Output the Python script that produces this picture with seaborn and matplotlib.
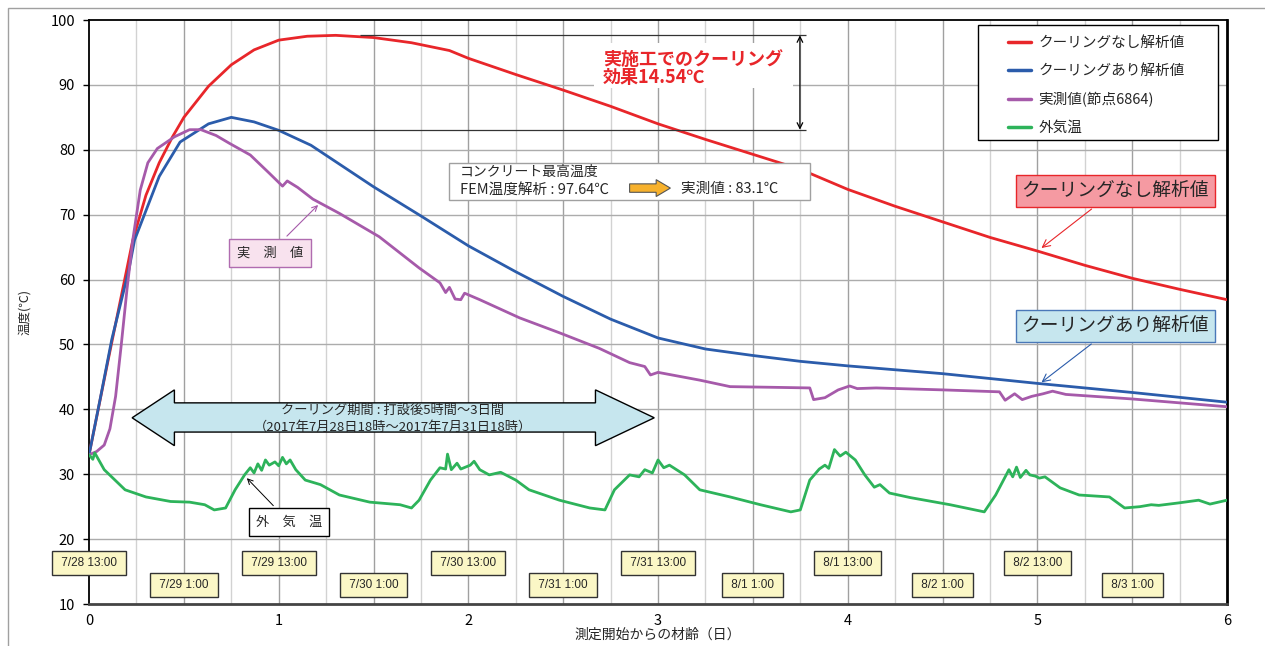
import matplotlib
matplotlib.use('Agg')
import matplotlib.pyplot as plt
import matplotlib.patches as mpatches
import seaborn as sns

# ---- data ----
red_x = [0, 0.1, 0.23, 0.3, 0.37, 0.44, 0.5, 0.63, 0.75, 0.87, 1.0, 1.15, 1.3, 1.5, 1.7, 1.9, 2.0,
         2.25, 2.5, 2.75, 3.0, 3.25, 3.5, 3.75, 4.0, 4.25, 4.5, 4.75, 5.0, 5.25, 5.5, 5.75, 6.0]
red_y = [33, 47.5, 66, 73, 78, 82, 85, 89.8, 93.1, 95.4, 96.9, 97.5, 97.64, 97.3, 96.5, 95.3, 94.1,
         91.6, 89.2, 86.7, 84.0, 81.6, 79.3, 77.0, 73.9, 71.3, 68.9, 66.5, 64.4, 62.2, 60.2, 58.5, 56.9]

blue_x = [0, 0.06, 0.12, 0.21, 0.24, 0.37, 0.48, 0.63, 0.75, 0.87, 1.0, 1.17, 1.5, 1.75, 2.0,
          2.25, 2.5, 2.75, 3.0, 3.25, 3.5, 3.75, 4.0, 4.5, 5.0, 5.5, 6.0]
blue_y = [33, 41.8, 50.8, 61.5, 66.1, 75.9, 81.2, 84.0, 85.0, 84.3, 83.0, 80.7, 74.3, 69.8, 65.2,
          61.2, 57.4, 53.9, 51.0, 49.3, 48.3, 47.4, 46.7, 45.5, 44.0, 42.6, 41.1]

meas_x = [0, 0.04, 0.08, 0.11, 0.14, 0.17, 0.2, 0.23, 0.27, 0.31, 0.36, 0.45, 0.53, 0.59, 0.67,
          0.74, 0.85, 0.95, 1.02, 1.045, 1.1, 1.18, 1.32, 1.53, 1.74, 1.85, 1.88, 1.9, 1.93, 1.96,
          1.98, 2.06, 2.27, 2.48, 2.69, 2.85, 2.93, 2.96, 3.0, 3.22, 3.38, 3.6, 3.8, 3.82, 3.88,
          3.95, 4.01, 4.05, 4.15, 4.5, 4.8, 4.83, 4.88, 4.92, 4.97, 5.03, 5.08, 5.15, 5.5, 6.0]
meas_y = [33, 33.5, 34.5, 37, 42, 50, 58.5, 66, 73.8, 78, 80.2, 82, 83.1, 83.1, 82.2,
          81, 79.2, 76.4, 74.4, 75.2, 74.2, 72.4, 70.2, 66.6, 61.8, 59.5, 58.0, 58.8, 57.0, 56.9,
          57.9, 56.9, 54.1, 51.8, 49.4, 47.2, 46.6, 45.3, 45.7, 44.5, 43.5, 43.4, 43.3, 41.5, 41.8,
          43.0, 43.6, 43.2, 43.3, 43.0, 42.7, 41.4, 42.4, 41.5, 42.0, 42.4, 42.8, 42.3, 41.6, 40.4]

air_x = [0, 0.02, 0.03, 0.08, 0.19, 0.3, 0.43, 0.53, 0.61, 0.66, 0.72, 0.77, 0.82, 0.85, 0.87,
         0.89, 0.91, 0.93, 0.95, 0.98, 1.0, 1.02, 1.04, 1.06, 1.09, 1.14, 1.22, 1.32, 1.48, 1.64,
         1.7, 1.74, 1.8, 1.85, 1.88, 1.89, 1.91, 1.94, 1.96, 2.01, 2.03, 2.06, 2.11, 2.17, 2.25,
         2.32, 2.48, 2.64, 2.72, 2.77, 2.85, 2.9, 2.93, 2.97, 3.0, 3.03, 3.06, 3.14, 3.22, 3.38,
         3.54, 3.7, 3.75, 3.8, 3.85, 3.88, 3.9, 3.93, 3.96, 3.99, 4.04, 4.09, 4.14, 4.17, 4.22,
         4.33, 4.54, 4.72, 4.78, 4.85, 4.87, 4.89, 4.91, 4.94, 4.96, 4.99, 5.01, 5.04, 5.12, 5.22,
         5.38, 5.46, 5.54, 5.6, 5.64, 5.75, 5.85, 5.91, 6.0]
air_y = [33, 32.3, 33.3, 30.7, 27.6, 26.5, 25.8, 25.7, 25.3, 24.5, 24.8, 27.6, 29.9, 31.0, 30.2,
         31.6, 30.6, 32.2, 31.4, 31.9, 31.3, 32.6, 31.6, 32.2, 30.7, 29.1, 28.4, 26.8, 25.7, 25.3,
         24.8, 26.0, 29.1, 31.0, 30.8, 33.1, 30.7, 31.7, 30.8, 31.4, 32.0, 30.7, 29.9, 30.3, 29.1,
         27.6, 26.0, 24.8, 24.5, 27.6, 29.9, 29.6, 30.7, 30.2, 32.2, 31.0, 31.4, 29.9, 27.6, 26.5,
         25.3, 24.2, 24.5, 29.1, 30.8, 31.4, 30.9, 33.8, 32.8, 33.4, 32.2, 29.9, 28.0, 28.4, 27.1,
         26.4, 25.3, 24.2, 26.8, 30.7, 29.6, 31.1, 29.5, 30.6, 29.9, 29.7, 29.4, 29.6, 27.9, 26.8,
         26.5, 24.8, 25.0, 25.3, 25.2, 25.6, 26.0, 25.4, 26.0]

labels = ['クーリングなし解析値', 'クーリングあり解析値', '実測値(節点6864)', '外気温']
colors = ['#e8262a', '#2b5cab', '#a65aaa', '#2db35a']

date_top = ['7/28 13:00', '7/29 13:00', '7/30 13:00', '7/31 13:00', '8/1 13:00', '8/2 13:00']
date_top_x = [0, 1, 2, 3, 4, 5]
date_bot = ['7/29 1:00', '7/30 1:00', '7/31 1:00', '8/1 1:00', '8/2 1:00', '8/3 1:00']
date_bot_x = [0.5, 1.5, 2.5, 3.5, 4.5, 5.5]

fem_max = 97.64
meas_max = 83.1

sns.set_style('white')
plt.rcParams['font.family'] = ['Noto Sans CJK JP', 'DejaVu Sans']

fig = plt.figure(figsize=(12.65, 6.46), dpi=100)
ax = fig.add_axes([0.0704, 0.065, 0.8996, 0.904])

# grid
for i in range(1, 24):
    gx = i * 0.25
    ax.axvline(gx, color='#a0a0a0' if i % 2 == 0 else '#d2d2d2', lw=1, zorder=0)
for gy in range(20, 100, 10):
    ax.axhline(gy, color='#acacac', lw=1, zorder=0)

for xs, ys, lab, c in zip([red_x, blue_x, meas_x, air_x], [red_y, blue_y, meas_y, air_y], labels, colors):
    sns.lineplot(x=xs, y=ys, color=c, lw=2, label=lab, ax=ax, zorder=3)

ax.set_xlim(0, 6)
ax.set_ylim(10, 100)
ax.set_xticks(range(0, 7))
ax.set_yticks(range(10, 101, 10))
ax.tick_params(axis='both', labelsize=10.5, colors='black')
ax.tick_params(axis='y', length=4, width=1, direction='out', left=True, pad=6)
ax.tick_params(axis='x', length=0, pad=7)
for sp in ax.spines.values():
    sp.set_color('black'); sp.set_linewidth(1.3)
ax.spines['right'].set_linewidth(2)
ax.spines['bottom'].set_color('#444444'); ax.spines['bottom'].set_linewidth(2)
ax.set_xlabel('測定開始からの材齢（日）', fontsize=10, labelpad=0)
ax.set_ylabel('温度(℃)', fontsize=9, labelpad=14)

# legend: own frame, wider than its content as in the reference
leg_box = mpatches.Rectangle(((978 - 89) / 1138, 1 - (140 - 20) / 584), 240 / 1138, 115 / 584,
                             transform=ax.transAxes, facecolor='white', edgecolor='black', lw=1, zorder=6)
ax.add_patch(leg_box)
leg = ax.legend(loc='upper left', bbox_to_anchor=((1008 - 89) / 1138, 1 - (36 - 20) / 584),
                fontsize=10.5, labelspacing=0.95, handlelength=1.6, handletextpad=0.5,
                borderpad=0, borderaxespad=0, frameon=False)
leg.set_zorder(7)
for h in leg.get_lines():
    h.set_linewidth(2.5)

# cooling effect annotation
ax.hlines(fem_max, 1.43, 3.78, color='#333333', lw=0.9, zorder=4)
ax.hlines(meas_max, 0.63, 3.78, color='#333333', lw=0.9, zorder=4)
ax.annotate('', xy=(3.748, fem_max), xytext=(3.748, meas_max),
            arrowprops=dict(arrowstyle='<->', color='black', lw=0.9, shrinkA=0, shrinkB=0), zorder=4)
ax.add_patch(mpatches.Rectangle((2.66, 89.6), 1.05, 6.8, facecolor='white', edgecolor='none', zorder=2))
ax.text(2.71, 93.9, '実施工でのクーリング', color='#e8262a', fontsize=13, fontweight='bold', va='center', zorder=5)
ax.text(2.71, 91.1, '効果14.54℃', color='#e8262a', fontsize=13, fontweight='bold', va='center', zorder=5)

# max temperature box
ax.add_patch(mpatches.Rectangle((1.90, 72.3), 1.90, 5.7, facecolor='white', edgecolor='#a0a0a0', lw=1, zorder=5))
ax.text(1.955, 76.6, 'コンクリート最高温度', fontsize=10, va='center', zorder=6)
ax.text(1.955, 73.9, 'FEM温度解析 : 97.64℃', fontsize=10.5, va='center', zorder=6)
ax.text(3.12, 73.9, '実測値 : 83.1℃', fontsize=10.5, va='center', zorder=6)
ax.add_patch(mpatches.FancyArrow(2.85, 74.1, 0.14, 0, width=1.3, head_width=2.6, head_length=0.075,
                                 length_includes_head=False, facecolor='#f7b12c', edgecolor='#555555',
                                 lw=0.8, zorder=6))

# series call-outs
ax.annotate('クーリングなし解析値', xy=(5.01, 64.6), xytext=(5.41, 73.7), ha='center', va='center',
            fontsize=13.5, zorder=6,
            bbox=dict(boxstyle='square,pad=0.3', facecolor='#f59aa2', edgecolor='#e8262a', lw=1),
            arrowprops=dict(arrowstyle='->', color='#e8262a', lw=0.8))
ax.annotate('クーリングあり解析値', xy=(5.01, 43.9), xytext=(5.41, 52.9), ha='center', va='center',
            fontsize=13.5, zorder=6,
            bbox=dict(boxstyle='square,pad=0.3', facecolor='#c6e6ee', edgecolor='#4a78b8', lw=1),
            arrowprops=dict(arrowstyle='->', color='#2b5cab', lw=0.8))
ax.annotate('実　測　値', xy=(1.218, 71.8), xytext=(0.954, 64.1), ha='center', va='center',
            fontsize=9.5, zorder=6,
            bbox=dict(boxstyle='square,pad=0.6', facecolor='#f8e2ee', edgecolor='#b06cb0', lw=1),
            arrowprops=dict(arrowstyle='->', color='#a65aaa', lw=0.8))
ax.annotate('外　気　温', xy=(0.822, 29.7), xytext=(1.054, 22.65), ha='center', va='center',
            fontsize=9.5, zorder=6,
            bbox=dict(boxstyle='square,pad=0.55', facecolor='white', edgecolor='black', lw=1),
            arrowprops=dict(arrowstyle='->', color='black', lw=0.7))

# cooling period double arrow
arrow_poly = [(0.227, 38.7), (0.45, 43.0), (0.45, 41.0), (2.67, 41.0), (2.67, 43.0), (2.98, 38.7),
              (2.67, 34.4), (2.67, 36.5), (0.45, 36.5), (0.45, 34.4)]
ax.add_patch(mpatches.Polygon(arrow_poly, closed=True, facecolor='#c6e6ee', edgecolor='black', lw=1, zorder=5))
ax.text(1.60, 39.8, 'クーリング期間 : 打設後5時間～3日間', ha='center', va='center', fontsize=9.5, zorder=6)
ax.text(1.60, 37.2, '（2017年7月28日18時～2017年7月31日18時）', ha='center', va='center', fontsize=9.5, zorder=6)

# date boxes
date_box = dict(boxstyle='square,pad=0.5', facecolor='#fbf7c6', edgecolor='#333333', lw=1)
for lab, xv in zip(date_top, date_top_x):
    ax.text(xv, 16.3, ' ' + lab + ' ', ha='center', va='center', fontsize=8.5, bbox=date_box, zorder=6,
            clip_on=False, family=['Liberation Sans', 'DejaVu Sans'])
for lab, xv in zip(date_bot, date_bot_x):
    ax.text(xv, 12.9, ' ' + lab + ' ', ha='center', va='center', fontsize=8.5, bbox=date_box, zorder=6,
            clip_on=False, family=['Liberation Sans', 'DejaVu Sans'])

# outer frame (left and top edges)
fig.add_artist(mpatches.Rectangle((8 / 1265, -0.01), 1.0, 1 - 8 / 646 + 0.01, transform=fig.transFigure,
                                  facecolor='none', edgecolor='#a0a0a0', lw=1))

fig.savefig('out.png', dpi=100)
